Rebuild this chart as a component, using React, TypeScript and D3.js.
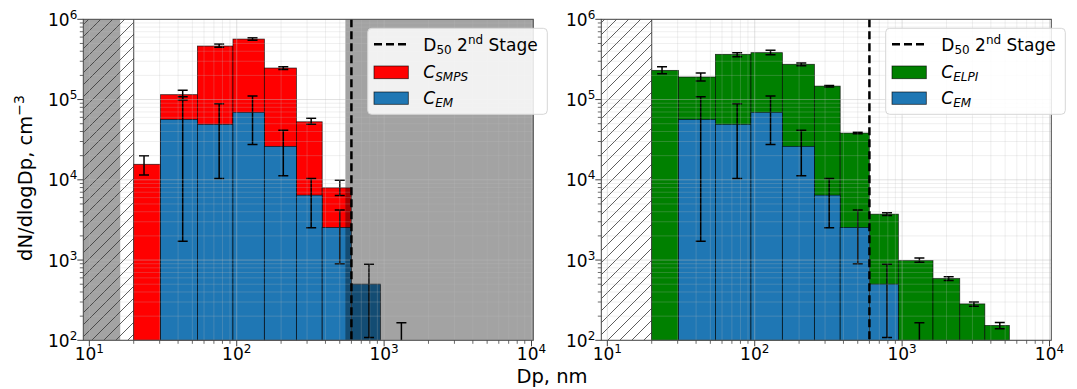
import * as d3 from "d3";

// bin edges (nm) shared by both instruments
const edges = [20, 30.4, 54.1, 94.3, 154, 254, 380, 600, 943, 1620, 2460, 3640, 5340];
// x position of the error bars for each bin
const errX = [23.5, 43, 76, 128, 207, 320, 500, 790, 1310, 2070, 3070, 4600];

const smps = [15600, 115000, 464000, 567000, 247000, 52800, 7940];
const smpsLo = [11500, 98600, 448000, 547000, 236000, 49100, 6380];
const smpsHi = [20000, 131000, 492000, 590000, 256000, 58300, 9900];

const em = [null, 56600, 49100, 69200, 26100, 6440, 2550, 501, 60];
const emLo = [null, 1720, 10400, 27600, 11200, 2520, 897, 108, 20];
const emHi = [null, 108000, 88700, 111000, 41300, 10400, 4190, 889, 165];

const elpi = [231000, 191000, 366000, 384000, 275000, 147000, 38200, 3730, 989, 589, 284, 153];
const elpiLo = [210000, 170000, 342000, 362000, 264000, 143000, 37500, 3600, 942, 557, 266, 139];
const elpiHi = [256000, 214000, 384000, 410000, 285000, 150000, 39000, 3880, 1057, 618, 301, 167];

const d50 = 600;
const smpsMin = 16.2; // below this: shaded
const lowLimit = 20; // hatched up to here
const grayStart = 546; // smps upper range limit

const xTicks = [10, 100, 1000, 10000];
const yTicks = [100, 1000, 10000, 100000, 1000000];

const FONT = "DejaVu Sans";
const blue = "#1f77b4";

const y = d3.scaleLog().domain([100, 1e6]).range([340.3, 19.3]);

function minors(lo: number, hi: number) {
  const out: number[] = [];
  for (let p = lo; p < hi; p++) for (let k = 2; k <= 9; k++) out.push(k * Math.pow(10, p));
  return out;
}

function Pow({ x, yy, exp, anchor }: { x: number; yy: number; exp: number; anchor: string }) {
  return (
    <text x={x} y={yy} textAnchor={anchor} fontSize={17} fontFamily={FONT} fill="#000">
      10<tspan dy={-7} fontSize={12}>{exp}</tspan>
    </text>
  );
}

function Panel({ x0, id, main, mainLo, mainHi, mainColor, label, shaded }: any) {
  const x = d3.scaleLog().domain([9.1, 10285]).range([x0, x0 + 450]);
  const [yb, yt] = [y.range()[0], y.range()[1]];
  const cy = (v: number) => Math.min(yb, y(Math.max(v, 1)));
  const xMinor = minors(0, 4).filter((v) => v > 9.1 && v < 10285);
  const yMinor = minors(2, 6);
  const lgX = x0 + 284.4;
  const bar = (vals: (number | null)[], color: string, key: string) =>
    vals.map((v, i) =>
      v == null ? null : (
        <rect key={key + i} x={x(edges[i])} width={x(edges[i + 1]) - x(edges[i])} y={cy(v)} height={yb - cy(v)}
          fill={color} stroke="#000" strokeOpacity={0.75} strokeWidth={0.8} />
      )
    );
  const errs = (vals: (number | null)[], lo: (number | null)[], hi: (number | null)[], key: string) =>
    vals.map((v, i) => {
      if (v == null) return null;
      const xx = x(errX[i]);
      const a = cy(hi[i] as number), b = cy(lo[i] as number);
      return (
        <g key={key + i} stroke="#000" strokeWidth={1.5}>
          <line x1={xx} x2={xx} y1={a} y2={b} />
          {hi[i]! > 100 && <line x1={xx - 5} x2={xx + 5} y1={a} y2={a} />}
          {lo[i]! > 100 && <line x1={xx - 5} x2={xx + 5} y1={b} y2={b} />}
        </g>
      );
    });
  return (
    <g>
      <defs>
        <clipPath id={"clip" + id}>
          <rect x={x0} y={yt} width={450} height={yb - yt} />
        </clipPath>
        <pattern id={"hatch" + id} patternUnits="userSpaceOnUse" width={12} height={12}>
          <path d="M0,12 L12,0 M-3,3 L3,-3 M9,15 L15,9" stroke="#333" strokeWidth={0.8} />
        </pattern>
      </defs>
      <g clipPath={`url(#clip${id})`}>
        {shaded && <rect x={x0} y={yt} width={x(smpsMin) - x0} height={yb - yt} fill="#000" fillOpacity={0.36} />}
        <rect x={x0} y={yt} width={x(lowLimit) - x0} height={yb - yt} fill={`url(#hatch${id})`} />
        <line x1={x(lowLimit)} x2={x(lowLimit)} y1={yt} y2={yb} stroke="#000" strokeWidth={0.8} />
        {bar(main, mainColor, "m")}
        {bar(em, blue, "e")}
        {errs(main, mainLo, mainHi, "me")}
        {errs(em, emLo, emHi, "ee")}
        {shaded && <rect x={x(grayStart)} y={yt} width={x0 + 450 - x(grayStart)} height={yb - yt} fill="#000" fillOpacity={0.36} />}
        {xMinor.map((v) => (
          <line key={"gx" + v} x1={x(v)} x2={x(v)} y1={yt} y2={yb} stroke="#bbb" strokeOpacity={0.3} strokeWidth={0.8} />
        ))}
        {yMinor.map((v) => (
          <line key={"gy" + v} x1={x0} x2={x0 + 450} y1={y(v)} y2={y(v)} stroke="#bbb" strokeOpacity={0.3} strokeWidth={0.8} />
        ))}
        {xTicks.map((v) => (
          <line key={"Gx" + v} x1={x(v)} x2={x(v)} y1={yt} y2={yb} stroke="#bbb" strokeOpacity={0.45} strokeWidth={1} />
        ))}
        {yTicks.map((v) => (
          <line key={"Gy" + v} x1={x0} x2={x0 + 450} y1={y(v)} y2={y(v)} stroke="#bbb" strokeOpacity={0.45} strokeWidth={1} />
        ))}
        <line x1={x(d50)} x2={x(d50)} y1={yt} y2={yb} stroke="#000" strokeWidth={2.5} strokeDasharray="8,4" />
      </g>
      <rect x={x0} y={yt} width={450} height={yb - yt} fill="none" stroke="#444" strokeWidth={1} />
      {xMinor.map((v) => (
        <line key={"tx" + v} x1={x(v)} x2={x(v)} y1={yb} y2={yb + 3.5} stroke="#444" strokeWidth={0.8} />
      ))}
      {yMinor.map((v) => (
        <line key={"ty" + v} x1={x0 - 3.5} x2={x0} y1={y(v)} y2={y(v)} stroke="#444" strokeWidth={0.8} />
      ))}
      {xTicks.map((v) => (
        <g key={"Tx" + v}>
          <line x1={x(v)} x2={x(v)} y1={yb} y2={yb + 6} stroke="#444" strokeWidth={1} />
          <Pow x={x(v)} yy={yb + 19.5} exp={Math.round(Math.log10(v))} anchor="middle" />
        </g>
      ))}
      {yTicks.map((v) => (
        <g key={"Ty" + v}>
          <line x1={x0 - 6} x2={x0} y1={y(v)} y2={y(v)} stroke="#444" strokeWidth={1} />
          <Pow x={x0 - 6} yy={y(v) + 6.5} exp={Math.round(Math.log10(v))} anchor="end" />
        </g>
      ))}
      <g fontFamily={FONT} fontSize={17}>
        <rect x={lgX} y={28.3} width={179.6} height={86} rx={4} fill="#fff" fillOpacity={0.85} stroke="#d6d6d6" />
        <line x1={lgX + 6.3} x2={lgX + 40.6} y1={44.3} y2={44.3} stroke="#000" strokeWidth={2.5} strokeDasharray="8,4" />
        <text x={lgX + 55.6} y={50.5}>
          D<tspan fontSize={12} dy={3}>50</tspan>
          <tspan dy={-3}> 2</tspan>
          <tspan fontSize={12} dy={-7}>nd</tspan>
          <tspan dy={7}> Stage</tspan>
        </text>
        <rect x={lgX + 6.3} y={66} width={34.3} height={12.7} fill={mainColor} stroke="#000" strokeOpacity={0.75} strokeWidth={0.8} />
        <text x={lgX + 55.6} y={78} fontStyle="italic">
          C<tspan fontSize={12} dy={3}>{label}</tspan>
        </text>
        <rect x={lgX + 6.3} y={92} width={34.3} height={12.3} fill={blue} stroke="#000" strokeOpacity={0.75} strokeWidth={0.8} />
        <text x={lgX + 55.6} y={104} fontStyle="italic">
          C<tspan fontSize={12} dy={3}>EM</tspan>
        </text>
      </g>
    </g>
  );
}

export default function App() {
  return (
    <svg width={1077} height={389} style={{ display: "block", position: "absolute", left: 0, top: 0 }}>
      <rect width={1077} height={389} fill="#fff" />
      <Panel x0={83.3} id="a" main={smps} mainLo={smpsLo} mainHi={smpsHi} mainColor="#ff0000" label="SMPS" shaded />
      <Panel x0={601.3} id="b" main={elpi} mainLo={elpiLo} mainHi={elpiHi} mainColor="#008000" label="ELPI" />
      <text transform="translate(32,178) rotate(-90)" textAnchor="middle" fontFamily={FONT} fontSize={19.5}>
        dN/dlogDp, cm<tspan dy={-8} fontSize={14}>−3</tspan>
      </text>
      <text x={552} y={383} textAnchor="middle" fontFamily={FONT} fontSize={19.5}>
        Dp, nm
      </text>
    </svg>
  );
}
